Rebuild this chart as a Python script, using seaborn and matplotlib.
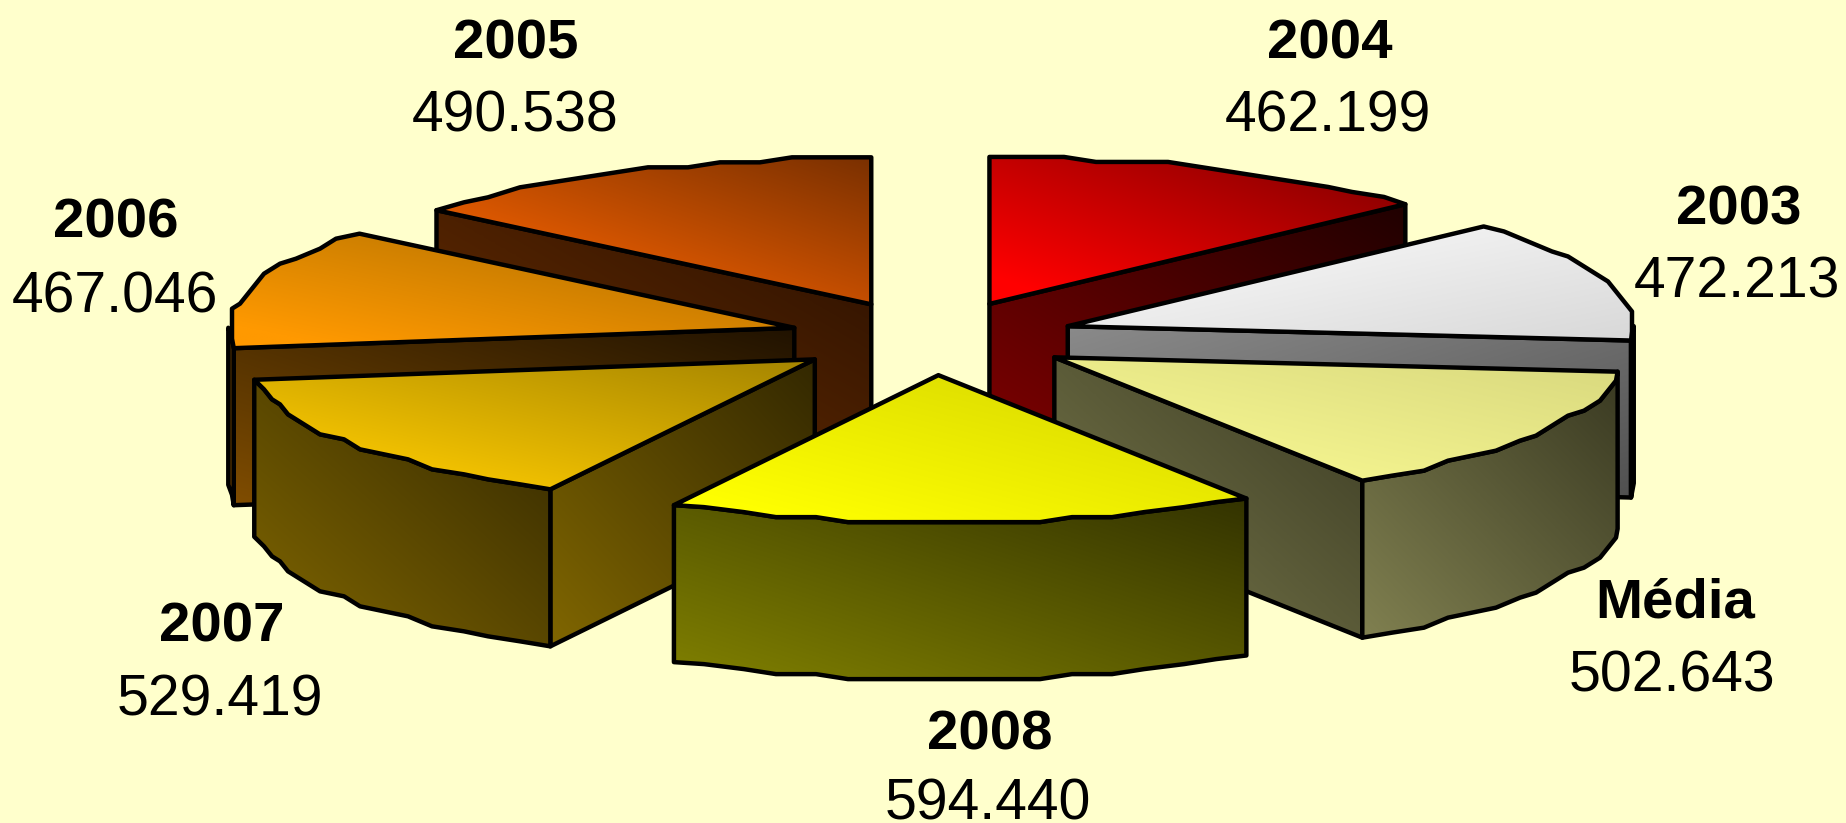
import numpy as np
import matplotlib
matplotlib.use("Agg")
import matplotlib.pyplot as plt
from matplotlib.patches import Polygon
import seaborn as sns

# ---- data, clockwise from the back of the pie
labels = ["2004", "2003", "Média", "2008", "2007", "2006", "2005"]
values = [462199, 472213, 502643, 594440, 529419, 467046, 490538]

# ---- colours: (bright, dark) of the gradient on each surface
top_colors = [("#FF0000", "#7C0000"), ("#FAFAFA", "#D8D8D8"), ("#F9F992", "#D8D87E"),
              ("#FFFF00", "#D4D400"), ("#FFCC00", "#A48400"), ("#FF9900", "#A86C00"),
              ("#FF6600", "#7A3000")]
face_colors = [("#800000", "#200000"), ("#8A8A8A", "#505050"), ("#7A7A4C", "#3C3C24"),
               ("#808000", "#333300"), ("#806600", "#332800"), ("#804D00", "#201200"),
               ("#6E3000", "#2A1000")]
rim_colors = [("#800000", "#200000"), ("#4A4A4A", "#3A3A3A"), ("#808050", "#3A3A22"),
              ("#808000", "#333300"), ("#806600", "#332800"), ("#804D00", "#402600"),
              ("#6E3000", "#2A1000")]
light_from_top_left = ["2003"]

# ---- label anchors in figure pixels (name baseline, value baseline)
label_x = [1330, 1739, 1675, 990, 222, 116, 516]
name_y = [58, 224, 617, 749, 642, 237, 58]
value_x = [1328, 1737, 1672, 988, 220, 115, 515]
value_y = [131, 298, 691, 820, 715, 312, 131]

# ---- layout of the projected pie
WIDTH, HEIGHT = 1846, 823
CX, CY = 932, 338
RX, RY = 566, 147
EXPLODE = 0.253
DEPTH = 157
BACKGROUND = "#FFFFCC"
EDGE = 3.2

sns.set_theme(style="white")
plt.rcParams["font.family"] = ["Liberation Sans", "DejaVu Sans"]

fig = plt.figure(figsize=(WIDTH / 100, HEIGHT / 100), dpi=100, facecolor=BACKGROUND)
ax = fig.add_axes([0, 0, 1, 1])
ax.set_xlim(0, WIDTH)
ax.set_ylim(HEIGHT, 0)
ax.set_autoscale_on(False)
ax.axis("off")

shares = np.array(values, dtype=float) / np.sum(values)
edges = np.concatenate([[0], np.cumsum(shares)]) * 360.0
zorder = [1]


def project(angle, mid, radius=1.0):
    a, m = np.radians(angle), np.radians(mid)
    x = CX + RX * (radius * np.sin(a) + EXPLODE * np.sin(m))
    y = CY - RY * (radius * np.cos(a) + EXPLODE * np.cos(m))
    return np.array([x, y])


def rim(a0, a1, mid):
    """Arc of the rim, with the coarse stepped outline of the original rendering."""
    n = max(int(abs(a1 - a0) / 3.6), 1)
    pts = np.array([project(a, mid) for a in np.linspace(a0, a1, n + 1)])
    back = np.cos(np.radians(mid)) > 0
    anchor = pts[:, 1].min() if back else pts[:, 1].max()
    out = pts.copy()
    out[1:-1, 0] = np.round(pts[1:-1, 0] / 8) * 8
    out[1:-1, 1] = anchor + np.round((pts[1:-1, 1] - anchor) / 5) * 5
    return out


def fill(verts, colors, top_left=False, brighten=False):
    verts = np.asarray(verts)
    x0, y0 = verts.min(axis=0)
    x1, y1 = verts.max(axis=0)
    u, v = np.meshgrid(np.linspace(0, 1, 200), np.linspace(0, 1, 200))
    t = 0.5 * (u + v) if top_left else 0.5 * (u + 1 - v)
    if brighten:
        t = np.clip((t - 0.1) / 0.9, 0, 1)
    cmap = sns.blend_palette(list(colors), n_colors=256, as_cmap=True)
    im = ax.imshow(t, cmap=cmap, vmin=0, vmax=1, extent=(x0, x1, y1, y0), origin="upper",
                   aspect="auto", zorder=zorder[0], interpolation="bilinear")
    clip = Polygon(verts, closed=True, transform=ax.transData)
    im.set_clip_path(clip)
    ax.add_patch(Polygon(verts, closed=True, fill=False, edgecolor="black", linewidth=EDGE,
                         joinstyle="round", zorder=zorder[0] + 0.5))
    zorder[0] += 1


down = np.array([0, DEPTH])
order = sorted(range(len(values)),
               key=lambda i: -np.cos(np.radians((edges[i] + edges[i + 1]) / 2)))

for i in order:
    a0, a1 = edges[i], edges[i + 1]
    mid = (a0 + a1) / 2
    apex = project(0, mid, radius=0.0)
    tl = labels[i] in light_from_top_left

    # radial faces turned towards the viewer
    for a, normal in ((a0, a0 - 90), (a1, a1 + 90)):
        if np.cos(np.radians(normal)) < -1e-6:
            p = project(a, mid)
            fill([apex, p, p + down, apex + down], face_colors[i], tl)

    # outer wall: only the part of the rim on the front half
    lo, hi = max(a0, 90.0), min(a1, 270.0)
    if lo < hi:
        arc = rim(lo, hi, mid)
        fill(np.vstack([arc, (arc + down)[::-1]]), rim_colors[i], tl)

    # top surface
    fill(np.vstack([[apex], rim(a0, a1, mid)]), top_colors[i], tl, brighten=True)

for i, lab in enumerate(labels):
    ax.text(label_x[i], name_y[i], lab, ha="center", va="baseline", fontsize=40.6,
            fontweight="bold", color="black", zorder=100)
    ax.text(value_x[i], value_y[i], f"{values[i]:,}".replace(",", "."), ha="center",
            va="baseline", fontsize=41.1, color="black", zorder=100)

fig.savefig("out.png", dpi=100, facecolor=BACKGROUND)
